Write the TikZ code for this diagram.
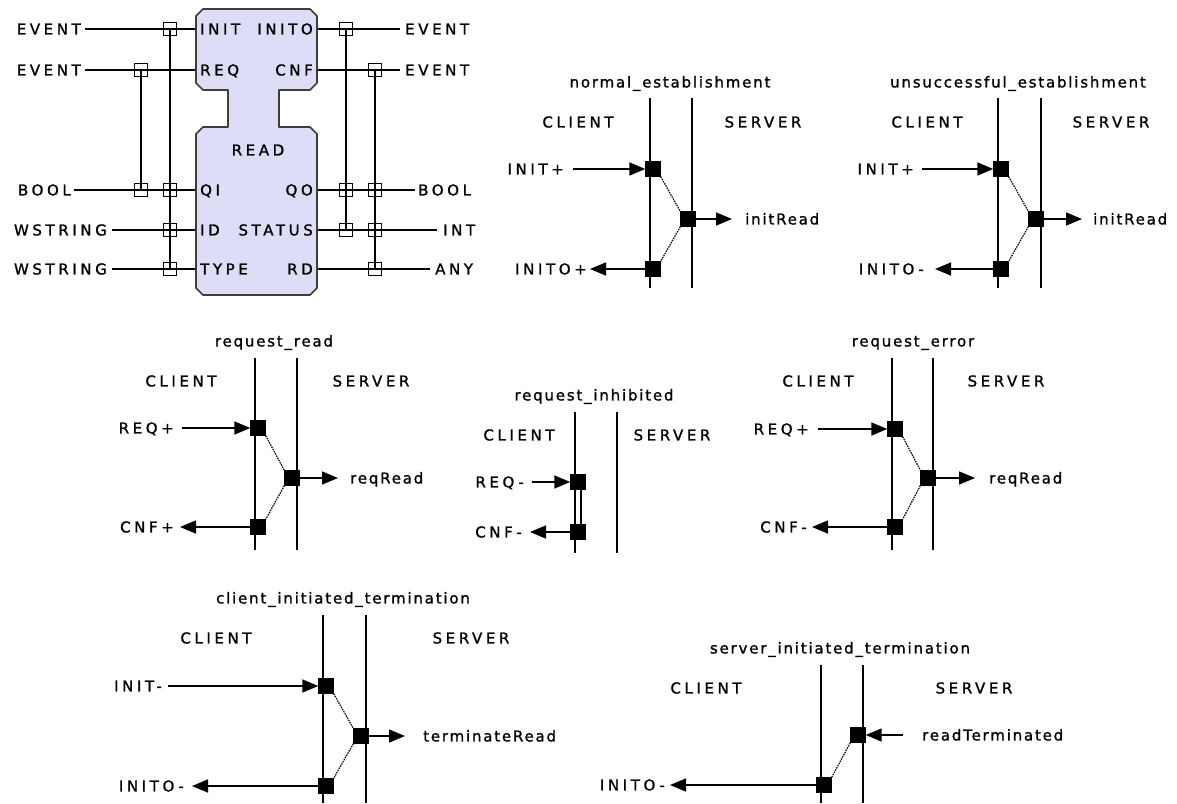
\documentclass[tikz,border=0pt]{standalone}
\usepackage{fontspec}
\newfontfamily\capf[LetterSpace=24,FakeBold=1.2]{DejaVu Sans}
\newfontfamily\lowf[LetterSpace=12,FakeBold=1.2]{DejaVu Sans}
\usetikzlibrary{arrows.meta}
\definecolor{blockfill}{RGB}{221,221,248}
\definecolor{blockedge}{RGB}{62,62,54}
\begin{document}
\begin{tikzpicture}[x=1pt,y=-1pt,
  captxt/.style={font=\capf\fontsize{15}{15}\selectfont, inner sep=0pt, text height=10.9pt, text depth=0pt},
  lowtxt/.style={font=\lowf\fontsize{15}{15}\selectfont, inner sep=0pt, text height=10.9pt, text depth=0pt},
  wire/.style={line width=1.2pt},
  tap/.style={draw, line width=1.3pt, minimum size=13pt, inner sep=0pt},
  life/.style={line width=1.5pt},
  ev/.style={draw, fill=black, minimum size=15pt, inner sep=0pt},
  arr/.style={line width=1.5pt, -{Triangle[length=16pt,width=13pt]}},
  trace/.style={line width=1.2pt, dash pattern=on 1.5pt off 1pt},
]
\useasboundingbox (0,0) rectangle (1177,803);

% ---------------- function block ----------------
\fill[blockfill] (203,9) -- (310,9) -- (317,16) -- (317,83) -- (310,90) -- (279,90) -- (279,127) -- (310,127) -- (317,134) -- (317,288) -- (310,295) -- (203,295) -- (196,288) -- (196,134) -- (203,127) -- (228,127) -- (228,90) -- (203,90) -- (196,83) -- (196,16) -- cycle;

\coordinate (pINIT) at (196,29);  \coordinate (pREQ) at (196,70);
\coordinate (pQI) at (196,190);   \coordinate (pID) at (196,230);
\coordinate (pTYPE) at (196,269);
\coordinate (pINITO) at (317,29); \coordinate (pCNF) at (317,70);
\coordinate (pQO) at (317,190);   \coordinate (pSTATUS) at (317,230);
\coordinate (pRD) at (317,269);

\node[captxt, anchor=east] (lt1) at (81,29) {EVENT};
\node[captxt, anchor=east] (lt2) at (81,70) {EVENT};
\node[captxt, anchor=east] (lt3) at (71,190) {BOOL};
\node[captxt, anchor=east] (lt4) at (107,230) {WSTRING};
\node[captxt, anchor=east] (lt5) at (107,269) {WSTRING};
\node[captxt, anchor=west] (rt1) at (405,29) {EVENT};
\node[captxt, anchor=west] (rt2) at (405,70) {EVENT};
\node[captxt, anchor=west] (rt3) at (418,190) {BOOL};
\node[captxt, anchor=west] (rt4) at (443,230) {INT};
\node[captxt, anchor=west] (rt5) at (435,269) {ANY};

\draw[wire] ([xshift=4]lt1.east) -- (pINIT);
\draw[wire] ([xshift=4]lt2.east) -- (pREQ);
\draw[wire] ([xshift=3]lt3.east) -- (pQI);
\draw[wire] ([xshift=5]lt4.east) -- (pID);
\draw[wire] ([xshift=5]lt5.east) -- (pTYPE);
\draw[wire] (pINITO) -- ([xshift=-5]rt1.west);
\draw[wire] (pCNF) -- ([xshift=-5]rt2.west);
\draw[wire] (pQO) -- ([xshift=-3]rt3.west);
\draw[wire] (pSTATUS) -- ([xshift=-6]rt4.west);
\draw[wire] (pRD) -- ([xshift=-5]rt5.west);

\node[tap] (ta1) at (170,29) {};
\node[tap] (ta2) at (141,70) {};
\node[tap] (ta3) at (141,190) {};
\node[tap] (ta4) at (170,190) {};
\node[tap] (ta5) at (170,230) {};
\node[tap] (ta6) at (170,269) {};
\node[tap] (tb1) at (346,29) {};
\node[tap] (tb2) at (375,70) {};
\node[tap] (tb3) at (346,190) {};
\node[tap] (tb4) at (375,190) {};
\node[tap] (tb5) at (346,230) {};
\node[tap] (tb6) at (375,230) {};
\node[tap] (tb7) at (375,269) {};
\draw[wire] (ta1.center) -- (ta6.center);
\draw[wire] (ta2.center) -- (ta3.center);
\draw[wire] (tb1.center) -- (tb5.center);
\draw[wire] (tb2.center) -- (tb7.center);

\draw[blockedge, line width=1.6pt, line join=round] (203,9) -- (310,9) -- (317,16) -- (317,83) -- (310,90) -- (279,90) -- (279,127) -- (310,127) -- (317,134) -- (317,288) -- (310,295) -- (203,295) -- (196,288) -- (196,134) -- (203,127) -- (228,127) -- (228,90) -- (203,90) -- (196,83) -- (196,16) -- cycle;

\node[captxt, anchor=west] (iINIT) at (200,29) {INIT};
\node[captxt, anchor=east] (iINITO) at (313,29) {INITO};
\node[captxt, anchor=west] (iREQ) at (200,70) {REQ};
\node[captxt, anchor=east] (iCNF) at (313,70) {CNF};
\node[captxt] (iREAD) at (258,150) {READ};
\node[captxt, anchor=west] (iQI) at (200,190) {QI};
\node[captxt, anchor=east] (iQO) at (313,190) {QO};
\node[captxt, anchor=west] (iID) at (200,230) {ID};
\node[captxt, anchor=east] (iSTATUS) at (313,230) {STATUS};
\node[captxt, anchor=west] (iTYPE) at (200,269) {TYPE};
\node[captxt, anchor=east] (iRD) at (313,269) {RD};

% ---------------- normal_establishment ----------------
\node[lowtxt] (ne-t) at (670,82) {normal\_establishment};
\coordinate (ne-L1) at (650,98); \coordinate (ne-L2) at (650,288);
\coordinate (ne-R1) at (692,98); \coordinate (ne-R2) at (692,288);
\draw[life] (ne-L1) -- (ne-L2); \draw[life] (ne-R1) -- (ne-R2);
\node[captxt] (ne-c) at (578,122) {CLIENT};
\node[captxt] (ne-s) at (763,122) {SERVER};
\node[ev] (ne-1) at (653,169) {};
\node[ev] (ne-2) at (688,219) {};
\node[ev] (ne-3) at (653,269) {};
\node[captxt, anchor=east] (ne-a) at (564,169) {INIT+};
\node[captxt, anchor=east] (ne-b) at (587,269) {INITO+};
\node[lowtxt, anchor=west] (ne-d) at (745,219) {initRead};
\draw[arr] ([xshift=9]ne-a.east) -- (ne-1);
\draw[arr] (ne-3) -- ([xshift=3]ne-b.east);
\draw[arr] (ne-2) -- ([xshift=-13]ne-d.west);
\draw[trace] (ne-1.south east) -- (ne-2.north west);
\draw[trace] (ne-2.south west) -- (ne-3.north east);

% ---------------- unsuccessful_establishment ----------------
\node[lowtxt] (ue-t) at (1018,82) {unsuccessful\_establishment};
\coordinate (ue-L1) at (998,98); \coordinate (ue-L2) at (998,288);
\coordinate (ue-R1) at (1041,98); \coordinate (ue-R2) at (1041,288);
\draw[life] (ue-L1) -- (ue-L2); \draw[life] (ue-R1) -- (ue-R2);
\node[captxt] (ue-c) at (927,122) {CLIENT};
\node[captxt] (ue-s) at (1111,122) {SERVER};
\node[ev] (ue-1) at (1001,169) {};
\node[ev] (ue-2) at (1036,219) {};
\node[ev] (ue-3) at (1001,269) {};
\node[captxt, anchor=east] (ue-a) at (914,169) {INIT+};
\node[captxt, anchor=east] (ue-b) at (924,269) {INITO-};
\node[lowtxt, anchor=west] (ue-d) at (1093,219) {initRead};
\draw[arr] ([xshift=8]ue-a.east) -- (ue-1);
\draw[arr] (ue-3) -- ([xshift=11]ue-b.east);
\draw[arr] (ue-2) -- ([xshift=-11]ue-d.west);
\draw[trace] (ue-1.south east) -- (ue-2.north west);
\draw[trace] (ue-2.south west) -- (ue-3.north east);

% ---------------- request_read ----------------
\node[lowtxt] (rr-t) at (274,341) {request\_read};
\coordinate (rr-L1) at (255,358); \coordinate (rr-L2) at (255,550);
\coordinate (rr-R1) at (297,358); \coordinate (rr-R2) at (297,550);
\draw[life] (rr-L1) -- (rr-L2); \draw[life] (rr-R1) -- (rr-R2);
\node[captxt] (rr-c) at (181,381) {CLIENT};
\node[captxt] (rr-s) at (371,381) {SERVER};
\node[ev] (rr-1) at (258,428) {};
\node[ev] (rr-2) at (292,478) {};
\node[ev] (rr-3) at (258,527) {};
\node[captxt, anchor=east] (rr-a) at (174,428) {REQ+};
\node[captxt, anchor=east] (rr-b) at (174,527) {CNF+};
\node[lowtxt, anchor=west] (rr-d) at (350,478) {reqRead};
\draw[arr] ([xshift=8]rr-a.east) -- (rr-1);
\draw[arr] (rr-3) -- ([xshift=6]rr-b.east);
\draw[arr] (rr-2) -- ([xshift=-12]rr-d.west);
\draw[trace] (rr-1.south east) -- (rr-2.north west);
\draw[trace] (rr-2.south west) -- (rr-3.north east);

% ---------------- request_inhibited ----------------
\node[lowtxt] (ri-t) at (594,395) {request\_inhibited};
\coordinate (ri-L1) at (575,412); \coordinate (ri-L2) at (575,553);
\coordinate (ri-R1) at (617,412); \coordinate (ri-R2) at (617,553);
\draw[life] (ri-L1) -- (ri-L2); \draw[life] (ri-R1) -- (ri-R2);
\node[captxt] (ri-c) at (519,435) {CLIENT};
\node[captxt] (ri-s) at (672,435) {SERVER};
\node[ev] (ri-1) at (578,482) {};
\node[ev] (ri-2) at (578,532) {};
\node[captxt, anchor=east] (ri-a) at (524,482) {REQ-};
\node[captxt, anchor=east] (ri-b) at (522,532) {CNF-};
\draw[arr] ([xshift=8]ri-a.east) -- (ri-1);
\draw[arr] (ri-2) -- ([xshift=8]ri-b.east);
\draw[line width=1.3pt] ([xshift=3]ri-1.south) -- ([xshift=3]ri-2.north);

% ---------------- request_error ----------------
\node[lowtxt] (re-t) at (913,341) {request\_error};
\coordinate (re-L1) at (892,358); \coordinate (re-L2) at (892,550);
\coordinate (re-R1) at (933,358); \coordinate (re-R2) at (933,550);
\draw[life] (re-L1) -- (re-L2); \draw[life] (re-R1) -- (re-R2);
\node[captxt] (re-c) at (818,381) {CLIENT};
\node[captxt] (re-s) at (1006,381) {SERVER};
\node[ev] (re-1) at (895,429) {};
\node[ev] (re-2) at (928,478) {};
\node[ev] (re-3) at (895,527) {};
\node[captxt, anchor=east] (re-a) at (809,429) {REQ+};
\node[captxt, anchor=east] (re-b) at (807,527) {CNF-};
\node[lowtxt, anchor=west] (re-d) at (989,478) {reqRead};
\draw[arr] ([xshift=9]re-a.east) -- (re-1);
\draw[arr] (re-3) -- ([xshift=5]re-b.east);
\draw[arr] (re-2) -- ([xshift=-14]re-d.west);
\draw[trace] (re-1.south east) -- (re-2.north west);
\draw[trace] (re-2.south west) -- (re-3.north east);

% ---------------- client_initiated_termination ----------------
\node[lowtxt] (ct-t) at (343,598) {client\_initiated\_termination};
\coordinate (ct-L1) at (323,615); \coordinate (ct-L2) at (323,803);
\coordinate (ct-R1) at (366,615); \coordinate (ct-R2) at (366,803);
\draw[life] (ct-L1) -- (ct-L2); \draw[life] (ct-R1) -- (ct-R2);
\node[captxt] (ct-c) at (216,638) {CLIENT};
\node[captxt] (ct-s) at (471,638) {SERVER};
\node[ev] (ct-1) at (326,686) {};
\node[ev] (ct-2) at (361,736) {};
\node[ev] (ct-3) at (326,786) {};
\node[captxt, anchor=east] (ct-a) at (162,686) {INIT-};
\node[captxt, anchor=east] (ct-b) at (184,786) {INITO-};
\node[lowtxt, anchor=west] (ct-d) at (423,736) {terminateRead};
\draw[arr] ([xshift=6]ct-a.east) -- (ct-1);
\draw[arr] (ct-3) -- ([xshift=8]ct-b.east);
\draw[arr] (ct-2) -- ([xshift=-18]ct-d.west);
\draw[trace] (ct-1.south east) -- (ct-2.north west);
\draw[trace] (ct-2.south west) -- (ct-3.north east);

% ---------------- server_initiated_termination ----------------
\node[lowtxt] (st-t) at (840,648) {server\_initiated\_termination};
\coordinate (st-L1) at (821,665); \coordinate (st-L2) at (821,803);
\coordinate (st-R1) at (863,665); \coordinate (st-R2) at (863,803);
\draw[life] (st-L1) -- (st-L2); \draw[life] (st-R1) -- (st-R2);
\node[captxt] (st-c) at (706,688) {CLIENT};
\node[captxt] (st-s) at (974,688) {SERVER};
\node[ev] (st-1) at (858,735) {};
\node[ev] (st-2) at (824,785) {};
\node[lowtxt, anchor=west] (st-d) at (922,735) {readTerminated};
\node[captxt, anchor=east] (st-b) at (665,785) {INITO-};
\draw[arr] ([xshift=-19]st-d.west) -- (st-1);
\draw[arr] (st-2) -- ([xshift=5]st-b.east);
\draw[trace] (st-2.north east) -- (st-1.south west);
\end{tikzpicture}
\end{document}
